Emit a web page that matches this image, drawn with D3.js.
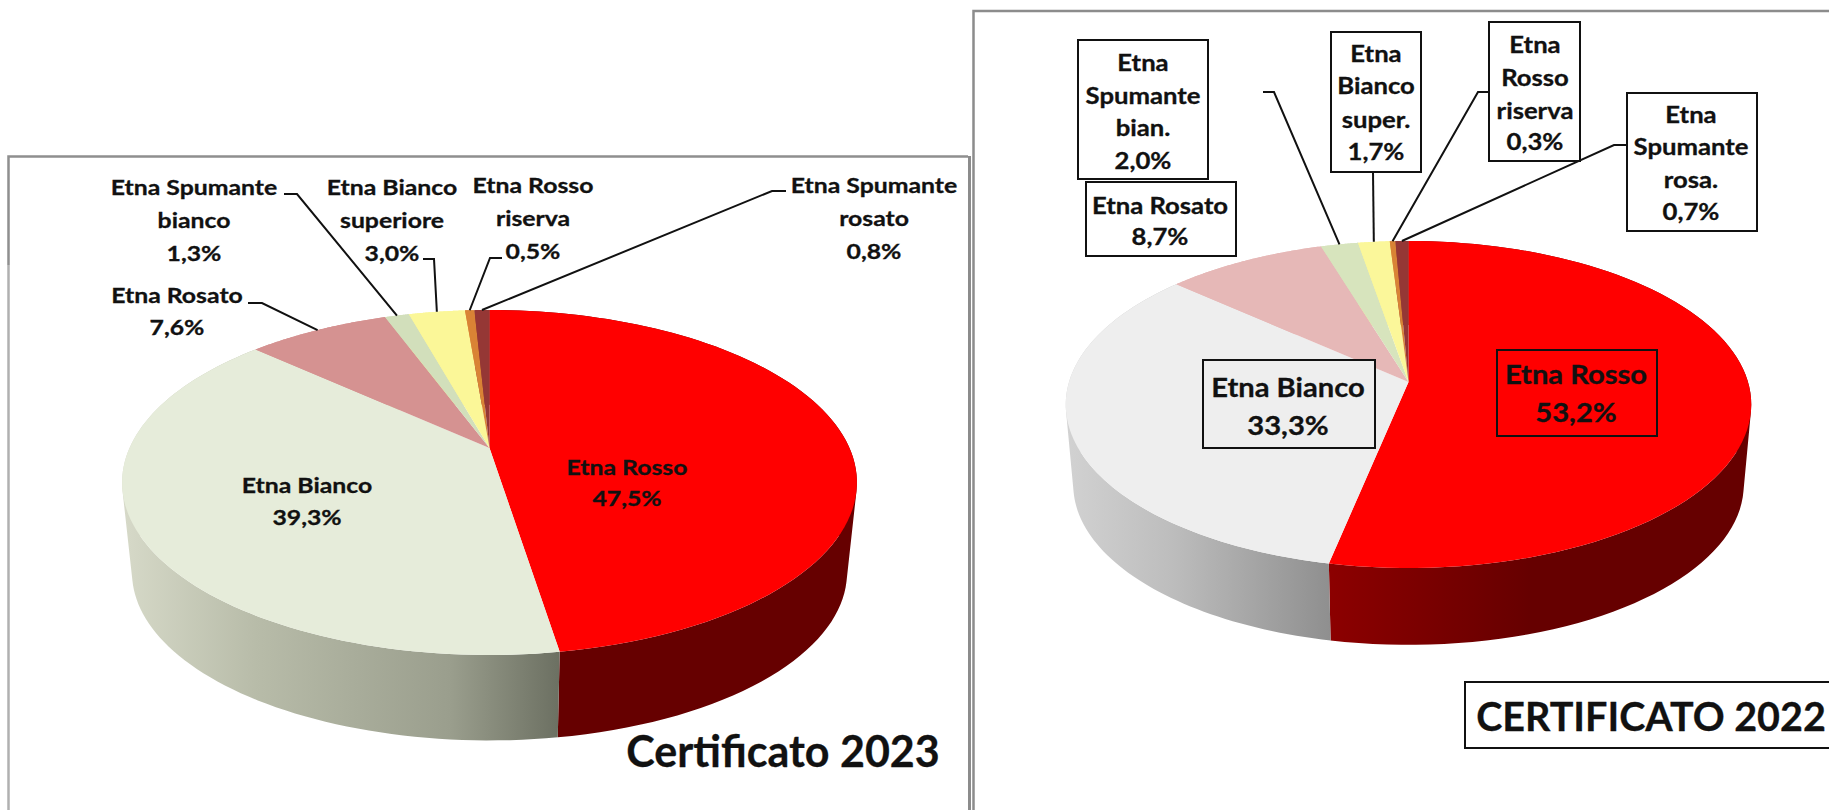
<!DOCTYPE html>
<html>
<head>
<meta charset="utf-8">
<script src="https://cdn.jsdelivr.net/npm/d3@7"></script>
<style>
html,body{margin:0;padding:0;background:#fff;overflow:hidden}
svg{display:block}
text{font-family:Lato,"Open Sans",sans-serif;font-weight:700;fill:#111;stroke:#111;stroke-width:0.3;text-anchor:middle;dominant-baseline:central}
</style>
</head>
<body>
<svg width="1829" height="810"></svg>
<script>
// values, clockwise from 12 o'clock
var categories = ["Etna Rosso","Etna Bianco","Etna Rosato","Etna Spumante bianco","Etna Bianco superiore","Etna Rosso riserva","Etna Spumante rosato"]
var values2023 = [47.5,39.3,7.6,1.3,3.0,0.5,0.8]
var values2022 = [53.2,33.3,8.7,2.0,1.7,0.3,0.7]

var colors2023 = ["#ff0000","#e6ecda","#d59291","#d2dfbb","#fbf798","#d98335","#953735"]
var colors2022 = ["#ff0000","#eeeeee","#e6b8b7","#d7e4bd","#fbf79a","#d98335","#953735"]

var lines2023 = [
  ["Etna Rosso","47,5%"],
  ["Etna Bianco","39,3%"],
  ["Etna Rosato","7,6%"],
  ["Etna Spumante","bianco","1,3%"],
  ["Etna Bianco","superiore","3,0%"],
  ["Etna Rosso","riserva","0,5%"],
  ["Etna Spumante","rosato","0,8%"]
]
var lines2022 = [
  ["Etna Rosso","53,2%"],
  ["Etna Bianco","33,3%"],
  ["Etna Rosato","8,7%"],
  ["Etna","Spumante","bian.","2,0%"],
  ["Etna","Bianco","super.","1,7%"],
  ["Etna","Rosso","riserva","0,3%"],
  ["Etna","Spumante","rosa.","0,7%"]
]

// label placement: centre x, y of each text line
var place2023 = [
  {x:627,ys:[467,498]},
  {x:307,ys:[485,517]},
  {x:177,ys:[295,327]},
  {x:194,ys:[187,220,253]},
  {x:392,ys:[187,220,253]},
  {x:533,ys:[185,218,251]},
  {x:874,ys:[185,218,251]}
]
var place2022 = [
  {x:1576,ys:[373,411],size:27,sx:1.08,box:[1497,350,160,86]},
  {x:1288,ys:[386,424],size:27,sx:1.08,box:[1203,360,172,88]},
  {x:1160,ys:[205,236],box:[1086,182,150,74]},
  {x:1143,ys:[62,95,127,160],box:[1078,40,130,139]},
  {x:1376,ys:[53,85,119,151],box:[1331,32,90,140]},
  {x:1535,ys:[44,77,110,141],box:[1489,22,91,139]},
  {x:1691,ys:[114,146,179,211],box:[1627,93,130,138]}
]
// leader elbows, the last point is taken from the pie itself
var leaders2023 = [null,null,
  [[248,303],[262,303]],
  [[284,194],[297,194]],
  [[423,259],[434,259]],
  [[502,258],[490,258]],
  [[786,191],[772,191]]
]
var leaders2022 = [null,null,null,
  [[1263,92],[1274,92]],
  [[1373,172]],
  [[1488,92],[1478,92]],
  [[1627,145],[1614,145]]
]

var geom2023 = {ax:489.5,ay:448,a:360,b:165.6,k:0.2,ay2:539,s2:0.973}
var geom2022 = {ax:1408.5,ay:382,a:339.5,b:160.4,k:0.1376,ay2:463,s2:0.978}

var svg = d3.select("svg")
var defs = svg.append("defs")

// frames of the two pasted panels
var frames = [
  {pts:[[8.5,265],[8.5,156.5],[968,156.5]],color:"#8f8f8f",w:2.5},
  {pts:[[8.5,265],[8.5,810]],color:"#b0b0b0",w:2.5},
  {pts:[[969.5,156],[969.5,810]],color:"#8c8c8c",w:3},
  {pts:[[973.5,810],[973.5,11],[1829,11]],color:"#8c8c8c",w:2.5}
]
var pathLine = d3.line()
svg.selectAll(".frame").data(frames).enter().append("path")
   .attr("class","frame")
   .attr("d",function(d){return pathLine(d.pts)})
   .attr("fill","none")
   .attr("stroke",function(d){return d.color})
   .attr("stroke-width",function(d){return d.w})

var pie = d3.pie().sort(null).value(function(d){return d})

// perspective view of the round pie: a point on the rim for a given angle
var project = function(g,angle,lower)
{
    var u = Math.sin(angle)
    var v = -Math.cos(angle)
    var w = 1 - g.k*v
    var s = lower ? g.s2 : 1
    return [g.ax + s*g.a*u/w, (lower ? g.ay2 : g.ay) + s*g.b*v/w]
}

var rimPoints = function(g,a0,a1,lower)
{
    var step = d3.scaleLinear().domain([0,90]).range([a0,a1])
    return d3.range(91).map(function(i){return project(g,step(i),lower)})
}

// side wall as a row of small quads, all wound the same way so they
// also fill the tangent part at the far left and right of the pie
var wallPath = function(g,d)
{
    var top = rimPoints(g,d.startAngle,d.endAngle,false)
    var low = rimPoints(g,d.startAngle,d.endAngle,true)
    var out = ""
    for(var i=0;i<top.length-1;i++)
    {
        var quad = [top[i],top[i+1],low[i+1],low[i]]
        if(d3.polygonArea(quad)<0){quad.reverse()}
        out += pathLine(quad)+"Z"
    }
    return out
}

var makeGradient = function(id,x0,x1,stops)
{
    var grad = defs.append("linearGradient")
        .attr("id",id)
        .attr("gradientUnits","userSpaceOnUse")
        .attr("x1",x0).attr("x2",x1).attr("y1",0).attr("y2",0)
    grad.selectAll("stop").data(stops).enter().append("stop")
        .attr("offset",function(d){return d[0]})
        .attr("stop-color",function(d){return d[1]})
}

makeGradient("bianco23",124,559,[[0,"#d6d9c8"],[0.3,"#b8bca9"],[0.75,"#9a9e8d"],[1,"#6c7062"]])
makeGradient("bianco22",1066,1330,[[0,"#d2d2d2"],[0.4,"#bdbdbd"],[1,"#8f8f8f"]])
makeGradient("rosso22",1330,1530,[[0,"#8c0000"],[1,"#660000"]])

var drawPie = function(values,colors,g,wallFills)
{
    var arcs = pie(values)
    var group = svg.append("g")

    group.selectAll(".wall").data(arcs).enter().append("path")
        .attr("class","wall")
        .attr("d",function(d){return wallPath(g,d)})
        .attr("fill",function(d,i){return wallFills[i] || colors[i]})

    group.selectAll(".slice").data(arcs).enter().append("path")
        .attr("class","slice")
        .attr("d",function(d)
        {
            return pathLine([[g.ax,g.ay]].concat(rimPoints(g,d.startAngle,d.endAngle,false)))+"Z"
        })
        .attr("fill",function(d,i){return colors[i]})
    return arcs
}

var drawLeaders = function(arcs,g,leaders)
{
    svg.append("g").selectAll("path")
       .data(arcs.filter(function(d,i){return leaders[i]}))
       .enter().append("path")
       .attr("d",function(d)
       {
           var mid = (d.startAngle+d.endAngle)/2
           return pathLine(leaders[d.index].concat([project(g,mid,false)]))
       })
       .attr("fill","none")
       .attr("stroke","#111")
       .attr("stroke-width",2)
}

var drawLabels = function(lines,place,colors,defaultSize,defaultStretch)
{
    var groups = svg.append("g").selectAll("g")
        .data(lines).enter().append("g")
    groups.each(function(d,i)
    {
        var p = place[i]
        var group = d3.select(this)
        if(p.box)
        {
            group.append("rect")
                 .attr("x",p.box[0]).attr("y",p.box[1])
                 .attr("width",p.box[2]).attr("height",p.box[3])
                 .attr("fill",i<2 ? colors[i] : "#fff")
                 .attr("stroke","#111")
                 .attr("stroke-width",2)
        }
        group.selectAll("text").data(d).enter().append("text")
             .attr("transform",function(t,j){return "translate("+p.x+","+p.ys[j]+") scale("+(p.sx || defaultStretch)+",1)"})
             .attr("font-size",p.size || defaultSize)
             .text(function(t){return t})
    })
}

var arcs23 = drawPie(values2023,colors2023,geom2023,["#660000","url(#bianco23)"])
var arcs22 = drawPie(values2022,colors2022,geom2022,["url(#rosso22)","url(#bianco22)"])
drawLeaders(arcs23,geom2023,leaders2023)
drawLeaders(arcs22,geom2022,leaders2022)
drawLabels(lines2023,place2023,colors2023,21,1.18)
drawLabels(lines2022,place2022,colors2022,22,1.167)

svg.append("text").attr("x",783).attr("y",750).attr("font-size",43).text("Certificato 2023")
svg.append("rect").attr("x",1465).attr("y",682).attr("width",400).attr("height",66)
   .attr("fill","#fff").attr("stroke","#111").attr("stroke-width",2)
svg.append("text").attr("x",1651).attr("y",715).attr("font-size",39.5).text("CERTIFICATO 2022")
</script>
</body>
</html>
